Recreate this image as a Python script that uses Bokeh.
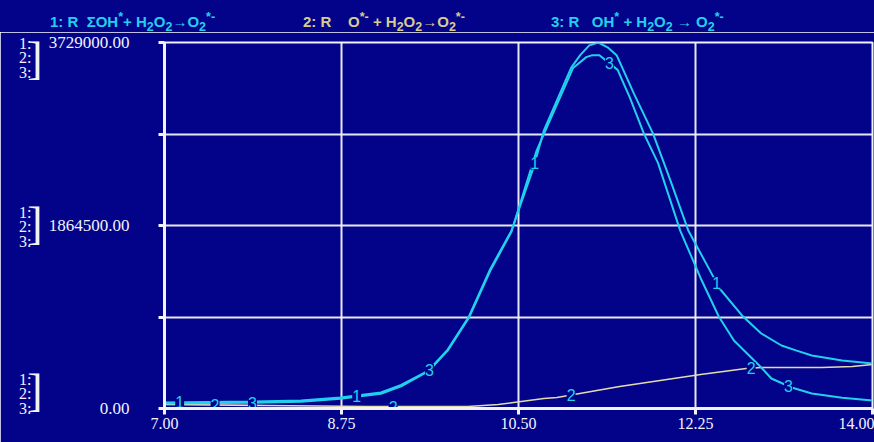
import numpy as np
from bokeh.plotting import figure
from bokeh.models import FixedTicker, Range1d, LinearAxis, Div
from bokeh.layouts import column
from bokeh.core.properties import value
from bokeh.embed import file_html
from bokeh.resources import INLINE

# ---------------- data ----------------
s1_x = [7.00, 7.85, 8.35, 8.74, 9.14, 9.34, 9.61, 9.80, 10.01, 10.22, 10.43, 10.65, 10.75, 11.02, 11.11, 11.20,
        11.29, 11.38, 11.47, 11.64, 11.83, 12.00, 12.18, 12.38, 12.49, 12.72, 12.90, 13.10, 13.25, 13.40,
        13.70, 14.00]
s1_y = [61e3, 71e3, 82e3, 112e3, 163e3, 240e3, 387e3, 600e3, 937e3, 1420e3, 1810e3, 2460e3, 2830e3, 3470e3,
        3600e3, 3700e3, 3729e3, 3680e3, 3600e3, 3210e3, 2800e3, 2330e3, 1810e3, 1430e3, 1220e3, 937e3, 764e3,
        642e3, 590e3, 540e3, 489e3, 459e3]

s2_x = [7.00, 8.00, 9.00, 10.00, 10.30, 10.75, 10.88, 11.50, 12.30, 12.75, 12.90, 13.50, 13.80, 14.00]
s2_y = [41e3, 31e3, 20e3, 20e3, 41e3, 102e3, 112e3, 224e3, 346e3, 408e3, 418e3, 418e3, 428e3, 448e3]

s3_x = [7.00, 7.85, 8.35, 8.74, 9.14, 9.34, 9.61, 9.80, 10.01, 10.22, 10.43, 10.68, 11.04, 11.17, 11.23, 11.30,
        11.48, 11.60, 11.74, 11.88, 12.10, 12.30, 12.48, 12.63, 12.83, 12.90, 13.00, 13.20, 13.40, 13.70, 14.00]
s3_y = [50e3, 58e3, 68e3, 100e3, 150e3, 225e3, 380e3, 590e3, 925e3, 1400e3, 1800e3, 2630e3, 3470e3, 3580e3,
        3600e3, 3600e3, 3450e3, 3170e3, 2800e3, 2500e3, 1810e3, 1330e3, 937e3, 693e3, 489e3, 418e3, 306e3,
        214e3, 153e3, 110e3, 82e3]

lab1_x = [7.15, 8.90, 10.66, 12.46]
lab2_x = [7.50, 9.26, 11.02, 12.80]
lab3_x = [7.87, 9.62, 11.40, 13.17]

x_ticks = [7.00, 8.75, 10.50, 12.25, 14.00]
y_ticks = [0, 932250, 1864500, 2796750, 3729000]
y_tick_labels = {0: "0.00", 932250: "", 1864500: "1864500.00", 2796750: "", 3729000: "3729000.00"}
x_tick_labels = {7.0: "7.00", 8.75: "8.75", 10.5: "10.50", 12.25: "12.25", 14.0: "14.00"}

titles = ["1: R &nbsp;&Sigma;OH<sup>*</sup>+ H<sub>2</sub>O<sub>2</sub>&rarr;O<sub>2</sub><sup>*-</sup>",
          "2: R &nbsp;&nbsp;&nbsp;O<sup>*-</sup> + H<sub>2</sub>O<sub>2</sub>&rarr;O<sub>2</sub><sup>*-</sup>",
          "3: R &nbsp;&nbsp;OH<sup>*</sup> + H<sub>2</sub>O<sub>2</sub> &rarr; O<sub>2</sub><sup>*-</sup>"]
series_names = ["1:", "2:", "3:"]

# ---------------- style ----------------
BG = "#03038a"
CYAN = "#22d0ee"
TAN = "#e4dcb0"
WHITE = "#f2f2fa"

TOPDIV = 32
W, H = 874, 442 - TOPDIV
BL, BR, BT, BB = 164, 2, 42 - TOPDIV, 34
X0, X1 = 7.0, 14.0
Y0, Y1 = 0.0, 3729000.0

p = figure(width=W, height=H, output_backend="svg", toolbar_location=None,
           x_range=Range1d(X0, X1), y_range=Range1d(Y0, Y1),
           min_border_left=BL, min_border_right=BR, min_border_top=BT, min_border_bottom=BB)
p.background_fill_color = BG
p.border_fill_color = BG
p.outline_line_color = WHITE
p.outline_line_width = 2

fh = H - BT - BB
def dy(py):  # page pixel row -> data value (for text rows outside the frame)
    return Y0 + (TOPDIV + H - BB - py) * (Y1 - Y0) / fh

# axes
for ax in (p.xaxis[0], p.yaxis[0]):
    ax.axis_line_color = WHITE
    ax.axis_line_width = 3
    ax.major_tick_line_color = WHITE
    ax.major_tick_line_width = 3
    ax.major_tick_out = 6
    ax.major_tick_in = 0
    ax.minor_tick_line_color = None
    ax.major_label_text_color = WHITE
    ax.major_label_text_font = "Liberation Serif"
    ax.major_label_text_font_size = "16px"

p.xaxis.ticker = FixedTicker(ticks=x_ticks)
p.xaxis.major_label_overrides = x_tick_labels
p.xaxis.major_label_standoff = 3
p.yaxis.ticker = FixedTicker(ticks=y_ticks)
p.yaxis.major_label_overrides = y_tick_labels
p.yaxis.major_label_text_font_size = "17px"
p.yaxis.major_label_standoff = 29

# bracket axis and "1: 2: 3:" axis on the far left
group_rows = (57, 226, 393)
br_rows = (54, 223, 390)
br_axis = LinearAxis(ticker=FixedTicker(ticks=[dy(r) for r in br_rows]),
                     major_label_overrides={dy(r): "]" for r in br_rows})
num_ticks, num_over = [], {}
for r in group_rows:
    for k, t in enumerate(series_names):
        v = dy(r + (k - 1) * 14.5)
        num_ticks.append(v)
        num_over[v] = t
num_axis = LinearAxis(ticker=FixedTicker(ticks=num_ticks), major_label_overrides=num_over)
for ax, fs, so in ((br_axis, "46px", 3), (num_axis, "16px", -7)):
    ax.axis_line_color = None
    ax.major_tick_line_color = None
    ax.minor_tick_line_color = None
    ax.major_tick_out = 0
    ax.major_tick_in = 0
    ax.major_label_standoff = so
    ax.major_label_text_color = WHITE
    ax.major_label_text_font = "Liberation Serif"
    ax.major_label_text_font_size = fs
    p.add_layout(ax, "left")

p.xgrid.ticker = FixedTicker(ticks=x_ticks[1:-1])
p.ygrid.ticker = FixedTicker(ticks=y_ticks[1:-1])
for g in (p.xgrid[0], p.ygrid[0]):
    g.grid_line_color = WHITE
    g.grid_line_width = 2
    g.grid_line_alpha = 0.95

# series
p.line(s2_x, s2_y, line_color=TAN, line_width=1.6)
p.line(s1_x, s1_y, line_color=CYAN, line_width=2)
p.line(s3_x, s3_y, line_color=CYAN, line_width=2)

# curve number labels (positions taken from the series)
for xs, (sx, sy), t in ((lab1_x, (s1_x, s1_y), "1"), (lab2_x, (s2_x, s2_y), "2"), (lab3_x, (s3_x, s3_y), "3")):
    ly = list(np.interp(xs, sx, sy))
    p.text(x=xs, y=ly, text=[t] * len(xs), text_color=CYAN, text_font=value("Liberation Sans"),
           text_font_size="16px", text_align="center", text_baseline="middle",
           background_fill_color=BG)

# title row
title_left = [50, 303, 551]
title_col = [CYAN, "#d8cc8e", CYAN]
spans = "".join(
    f'<span style="position:absolute;left:{l}px;top:9px;color:{c};white-space:nowrap">{t}</span>'
    for t, l, c in zip(titles, title_left, title_col))
head = Div(text=f'<div style="position:relative;width:{W}px;height:{TOPDIV}px;background:{BG};'
                f'font-family:\'Liberation Sans\',Arial,sans-serif;font-weight:bold;font-size:15px;'
                f'line-height:17px">{spans}</div>',
           width=W, height=TOPDIV, margin=0, styles={"background-color": BG})

layout = column(head, p, spacing=0)
open("out.html", "w").write(file_html(layout, INLINE))
